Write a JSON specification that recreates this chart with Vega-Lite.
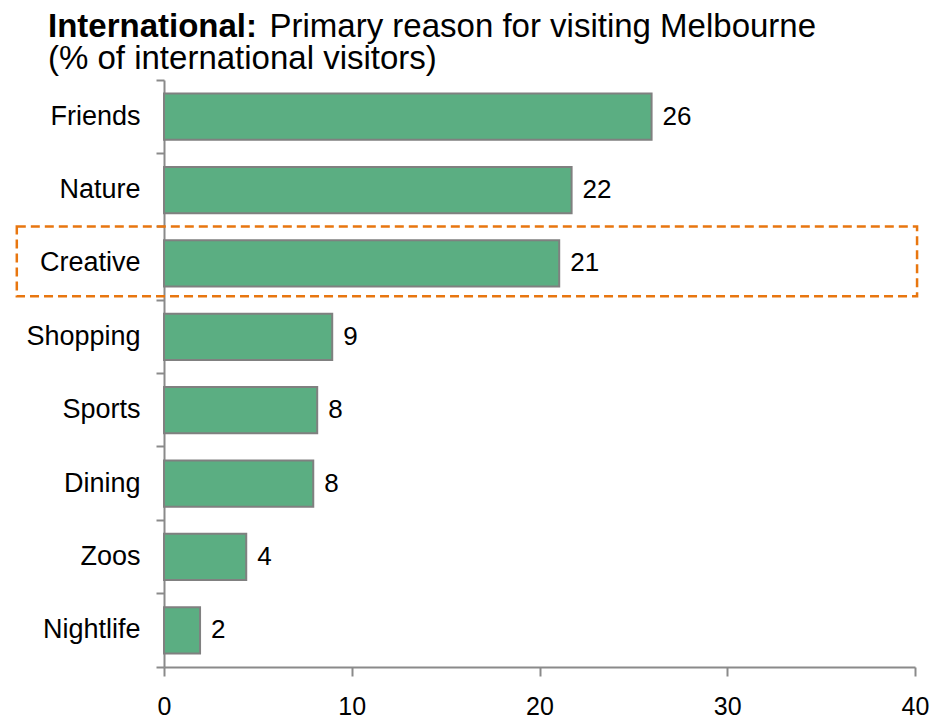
{
  "$schema": "https://vega.github.io/schema/vega-lite/v6.json",
  "width": 751,
  "height": 587,
  "autosize": "none",
  "padding": {"left": 164, "top": 80, "right": 35, "bottom": 52},
  "background": "white",
  "config": {
    "font": "Liberation Sans",
    "view": {"stroke": null}
  },
  "title": {
    "text": "International:",
    "subtitle": "(% of international visitors)",
    "anchor": "start",
    "frame": "group",
    "dx": -116,
    "offset": -66,
    "fontSize": 33,
    "fontWeight": "bold",
    "color": "black",
    "lineHeight": 33,
    "subtitleFontSize": 33,
    "subtitleFontWeight": "normal",
    "subtitleColor": "black",
    "subtitleLineHeight": 32.5,
    "subtitlePadding": -0.5
  },
  "datasets": {
    "bars": [
      {"reason": "Friends", "pct": 25.97},
      {"reason": "Nature", "pct": 21.71},
      {"reason": "Creative", "pct": 21.05},
      {"reason": "Shopping", "pct": 8.96},
      {"reason": "Sports", "pct": 8.16},
      {"reason": "Dining", "pct": 7.95},
      {"reason": "Zoos", "pct": 4.38},
      {"reason": "Nightlife", "pct": 1.92}
    ],
    "highlight": [
      {"reason": "Creative", "from": -7.84, "to": 40.11}
    ]
  },
  "encoding": {
    "y": {
      "field": "reason",
      "type": "nominal",
      "sort": ["Friends", "Nature", "Creative", "Shopping", "Sports", "Dining", "Zoos", "Nightlife"],
      "scale": {"paddingInner": 0, "paddingOuter": 0},
      "axis": {
        "title": null,
        "bandPosition": 1,
        "tickExtra": true,
        "domainColor": "#8a8a8a",
        "domainWidth": 2,
        "tickColor": "#8a8a8a",
        "tickWidth": 2,
        "tickSize": 8,
        "labelFontSize": 27,
        "labelColor": "black",
        "labelPadding": 16,
        "grid": false
      }
    }
  },
  "layer": [
    {
      "data": {"name": "bars"},
      "mark": {"type": "bar", "height": {"band": 0.63}, "fill": "#5BAE82", "stroke": "#808080", "strokeWidth": 2},
      "encoding": {
        "x": {
          "field": "pct",
          "type": "quantitative",
          "scale": {"domain": [0, 40], "nice": false, "zero": true},
          "axis": {
            "title": "Primary reason for visiting Melbourne",
            "titleX": 105,
            "titleY": -631,
            "titleAlign": "left",
            "titleBaseline": "alphabetic",
            "titleFontSize": 33,
            "titleFontWeight": "normal",
            "titleColor": "black",
            "titleAngle": 0,
            "values": [0, 10, 20, 30, 40],
            "grid": false,
            "domainColor": "#8a8a8a",
            "domainWidth": 2,
            "tickColor": "#8a8a8a",
            "tickWidth": 2,
            "tickSize": 9,
            "labelFontSize": 25,
            "labelColor": "black",
            "labelPadding": 18,
            "labelFlush": false
          }
        }
      }
    },
    {
      "data": {"name": "bars"},
      "mark": {"type": "text", "align": "left", "baseline": "middle", "dx": 11, "fontSize": 26, "color": "black"},
      "encoding": {
        "x": {"field": "pct", "type": "quantitative"},
        "text": {"field": "pct", "type": "quantitative", "format": ".0f"}
      }
    },
    {
      "data": {"name": "highlight"},
      "mark": {"type": "bar", "height": {"band": 0.95}, "yOffset": -2, "fill": null, "fillOpacity": 0, "stroke": "#E8760F", "strokeWidth": 2.5, "strokeDash": [9, 5], "clip": false},
      "encoding": {
        "x": {"field": "from", "type": "quantitative"},
        "x2": {"field": "to"}
      }
    }
  ]
}
